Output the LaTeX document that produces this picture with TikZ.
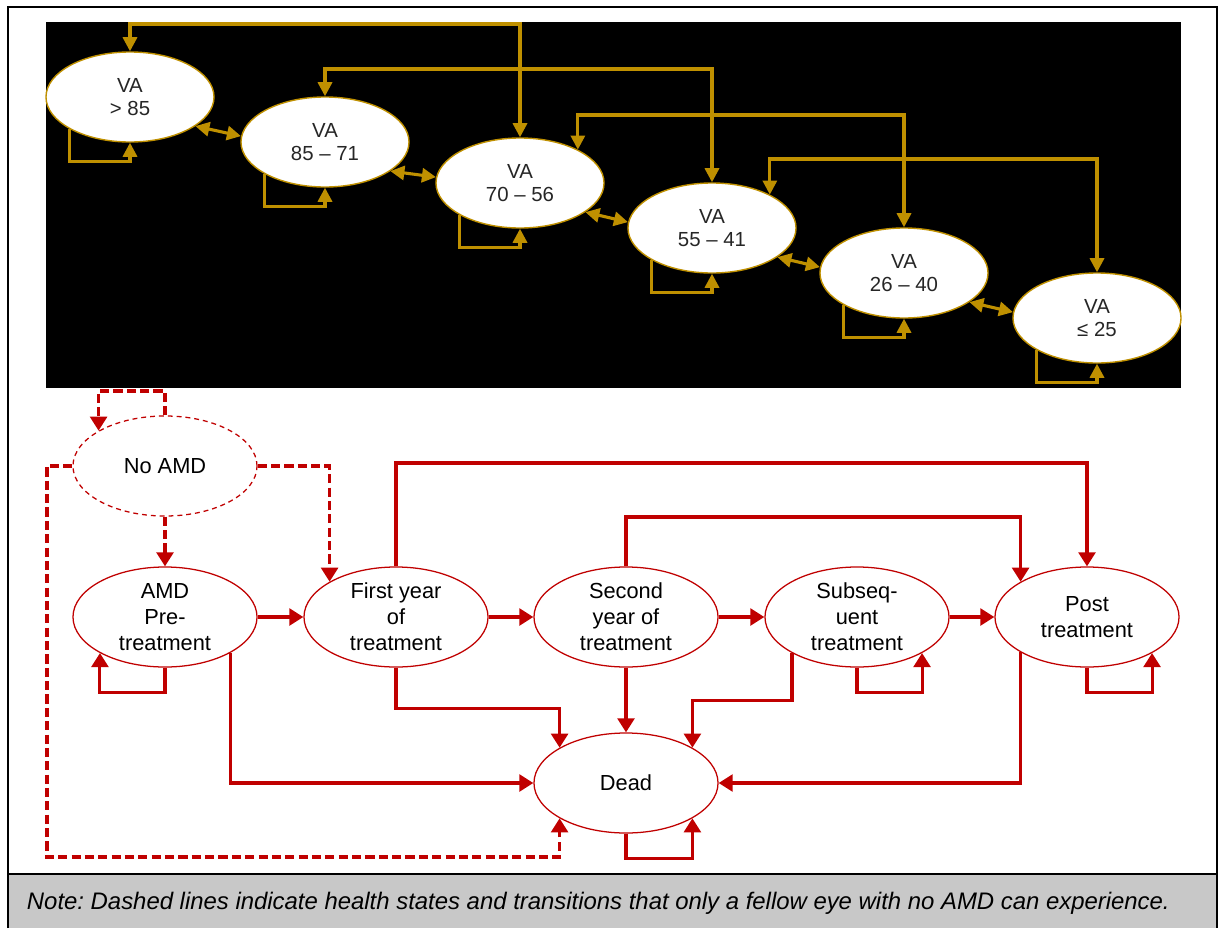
\documentclass[tikz,border=0pt]{standalone}
\usepackage{fontspec}
\setmainfont{Liberation Sans}
\usetikzlibrary{shapes.geometric,arrows.meta}
\definecolor{vagold}{RGB}{191,144,0}
\definecolor{amdred}{RGB}{192,0,0}
\definecolor{notegray}{RGB}{200,200,200}

\begin{document}
\begin{tikzpicture}[x=0.025cm,y=-0.025cm,
    vastate/.style={ellipse,draw=vagold,line width=1pt,fill=white,minimum width=4.2cm,minimum height=2.25cm,inner sep=0pt,align=center,text=black!85,font=\fontsize{14.5}{16.5}\selectfont},
    amdstate/.style={ellipse,draw=amdred,line width=0.9pt,fill=white,minimum width=4.6cm,minimum height=2.5cm,inner sep=0pt,inner ysep=-4pt,align=center,font=\fontsize{15.5}{18.5}\selectfont},
    fellowstate/.style={amdstate,dash pattern=on 3.5pt off 2.8pt},
    vaarrow/.style={draw=vagold,line width=2.2pt,>={Triangle[length=10pt,width=10pt]}},
    amdarrow/.style={draw=amdred,line width=2.2pt,>={Triangle[length=10pt,width=12pt]}},
    fellowarrow/.style={amdarrow,dash pattern=on 6.5pt off 3pt}]

\useasboundingbox (0,0) rectangle (1224,928);
\fill[notegray] (8,874) rectangle (1217,928);
\draw[line width=1.6pt] (8,928) -- (8,7) -- (1217,7) -- (1217,928);
\draw[line width=1.6pt] (8,874) -- (1217,874);
\fill[black] (46,22) rectangle (1181,388);

    \node[vastate] (va1) at (130,97) {VA\\> 85};
    \node[vastate] (va2) at (325,142) {VA\\85 – 71};
    \node[vastate] (va3) at (520,183) {VA\\70 – 56};
    \node[vastate] (va4) at (712,228) {VA\\55 – 41};
    \node[vastate] (va5) at (904,273) {VA\\26 – 40};
    \node[vastate] (va6) at (1097,318) {VA\\≤ 25};

\draw[vaarrow,<->] (va1.north) -- (va1.north |- 0,24) -| (va3.north);
\draw[vaarrow,<->] (va2.north) -- (va2.north |- 0,69) -| (va4.north);
\draw[vaarrow,<->] (va3.30) -- (va3.30 |- 0,115) -| (va5.north);
\draw[vaarrow,<->] (va4.30) -- (va4.30 |- 0,159) -| (va6.north);
\draw[vaarrow,<->] (va1.-24) -- (va2.176);
\draw[vaarrow,<->] (va2.-24) -- (va3.176);
\draw[vaarrow,<->] (va3.-24) -- (va4.176);
\draw[vaarrow,<->] (va4.-24) -- (va5.176);
\draw[vaarrow,<->] (va5.-24) -- (va6.176);
\draw[vaarrow,->] (va1.208) -- ++(0,32) -| (va1.south);
\draw[vaarrow,->] (va2.208) -- ++(0,32) -| (va2.south);
\draw[vaarrow,->] (va3.208) -- ++(0,32) -| (va3.south);
\draw[vaarrow,->] (va4.208) -- ++(0,32) -| (va4.south);
\draw[vaarrow,->] (va5.208) -- ++(0,32) -| (va5.south);
\draw[vaarrow,->] (va6.208) -- ++(0,32) -| (va6.south);

    \node[fellowstate] (noamd) at (165,466) {No AMD};
    \node[amdstate] (pre) at (165,617) {AMD\\Pre-\\treatment};
    \node[amdstate] (first) at (396,617) {First year\\of\\treatment};
    \node[amdstate] (second) at (626,617) {Second\\year of\\treatment};
    \node[amdstate] (subseq) at (857,617) {Subseq-\\uent\\treatment};
    \node[amdstate] (post) at (1087,617) {Post\\treatment};
    \node[amdstate] (dead) at (626,783) {Dead};

\draw[amdarrow,->] (pre) -- (first);
\draw[amdarrow,->] (first) -- (second);
\draw[amdarrow,->] (second) -- (subseq);
\draw[amdarrow,->] (subseq) -- (post);
\draw[amdarrow,->] (first.north) -- (first.north |- 0,463) -| (post.north);
\draw[amdarrow,->] (second.north) -- (second.north |- 0,517) -| (post.152);
\draw[amdarrow,->] (pre.-29) |- (dead.west);
\draw[amdarrow,->] (first.south) -- ++(0,41) -| (dead.152);
\draw[amdarrow,->] (second.south) -- (dead.north);
\draw[amdarrow,->] (subseq.209) -- ++(0,47) -| (dead.28);
\draw[amdarrow,->] (post.208) |- (dead.east);
\draw[amdarrow,->] (pre.south) -- ++(0,25) -| (pre.209);
\draw[amdarrow,->] (subseq.south) -- ++(0,25) -| (subseq.-29);
\draw[amdarrow,->] (post.south) -- ++(0,25) -| (post.-29);
\draw[amdarrow,->] (dead.south) -- ++(0,25) -| (dead.-28);

\draw[fellowarrow,->] (noamd.north) -- (noamd.north |- 0,391) -| (noamd.152);
\draw[fellowarrow,->] (noamd.south) -- (pre.north);
\draw[fellowarrow,->] (noamd.east) -| (first.152);
\draw[fellowarrow,->] (noamd.west) -| (47,857) -| (dead.208);

    \node[anchor=west,font=\fontsize{17}{20}\selectfont\itshape\frenchspacing] (note) at (22,903) {Note: Dashed lines indicate health states and transitions that only a fellow eye with no AMD can experience.};
\end{tikzpicture}
\end{document}
